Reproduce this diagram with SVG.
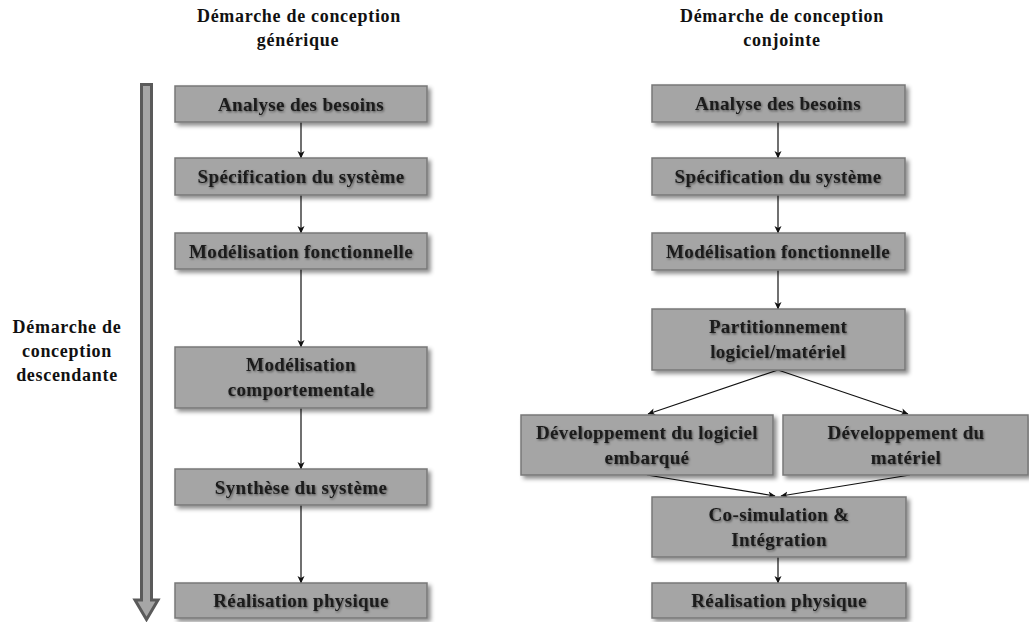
<svg xmlns="http://www.w3.org/2000/svg" width="1029" height="622" viewBox="0 0 1029 622">
<defs>
<filter id="bsh" x="-10%" y="-20%" width="125%" height="150%">
<feDropShadow dx="3" dy="3" stdDeviation="2" flood-color="#000" flood-opacity="0.45"/>
</filter>
<filter id="tsh" x="-10%" y="-30%" width="120%" height="160%">
<feDropShadow dx="1" dy="1.2" stdDeviation="0.9" flood-color="#000" flood-opacity="0.5"/>
</filter>
<marker id="ah" markerWidth="8" markerHeight="8" refX="7" refY="4" orient="auto" markerUnits="userSpaceOnUse">
<path d="M0,0.5 L7.5,4 L0,7.5 L2,4 Z" fill="#111"/>
</marker>
</defs>
<style>
.box{fill:#a5a5a5;stroke:#787878;stroke-width:1.5;filter:url(#bsh)}
.t{font-family:"Liberation Serif","Times New Roman",serif;font-weight:bold;font-size:19px;letter-spacing:0.35px;fill:#1a1a1a;text-anchor:middle;filter:url(#tsh)}
.h{font-family:"Liberation Serif","Times New Roman",serif;font-weight:bold;font-size:18px;letter-spacing:0.7px;fill:#111;text-anchor:middle}
.c{stroke:#111;stroke-width:1.2;fill:none;marker-end:url(#ah)}
</style>
<rect width="1029" height="622" fill="#fff"/>

<g id="titles">
<text class="h" x="299" y="22">Démarche de conception</text>
<text class="h" x="298" y="46">générique</text>
<text class="h" x="782" y="22">Démarche de conception</text>
<text class="h" x="782" y="46">conjointe</text>
</g>

<g id="side">
<polygon points="141.5,84.5 151.5,84.5 151.5,600 158,600 146.5,619.5 135,600 141.5,600" fill="#a6a6a6" stroke="#5a5a5a" stroke-width="3" stroke-linejoin="miter"/>
<text class="h" x="67" y="333">Démarche de</text>
<text class="h" x="67" y="357">conception</text>
<text class="h" x="67" y="381">descendante</text>
</g>

<g id="connectors">
<line class="c" x1="301" y1="122" x2="301" y2="158"/>
<line class="c" x1="301" y1="195" x2="301" y2="233"/>
<line class="c" x1="301" y1="269" x2="301" y2="347"/>
<line class="c" x1="301" y1="408" x2="301" y2="469"/>
<line class="c" x1="301" y1="505" x2="301" y2="583"/>
<line class="c" x1="778" y1="122" x2="778" y2="158"/>
<line class="c" x1="778" y1="195" x2="778" y2="233"/>
<line class="c" x1="778" y1="270" x2="778" y2="309"/>
<line class="c" x1="778" y1="370" x2="648" y2="414"/>
<line class="c" x1="778" y1="370" x2="908" y2="414"/>
<line class="c" x1="647" y1="475" x2="775" y2="496"/>
<line class="c" x1="910" y1="475" x2="781" y2="496"/>
<line class="c" x1="778" y1="557" x2="778" y2="583"/>
</g>

<g id="l-analyse"><rect class="box" x="175" y="86" width="252" height="36"/><text class="t" x="301" y="110.5">Analyse des besoins</text></g>
<g id="l-spec"><rect class="box" x="175" y="158" width="252" height="37"/><text class="t" x="301" y="183">Spécification du système</text></g>
<g id="l-modfonc"><rect class="box" x="175" y="233" width="252" height="36"/><text class="t" x="301" y="257.5">Modélisation fonctionnelle</text></g>
<g id="l-modcomp"><rect class="box" x="175" y="347" width="252" height="61"/><text class="t" x="301" y="371">Modélisation</text><text class="t" x="301" y="396">comportementale</text></g>
<g id="l-synth"><rect class="box" x="175" y="469" width="252" height="36"/><text class="t" x="301" y="493.5">Synthèse du système</text></g>
<g id="l-real"><rect class="box" x="175" y="583" width="252" height="35"/><text class="t" x="301" y="607">Réalisation physique</text></g>

<g id="r-analyse"><rect class="box" x="652" y="85" width="253" height="37"/><text class="t" x="778" y="110">Analyse des besoins</text></g>
<g id="r-spec"><rect class="box" x="652" y="158" width="253" height="37"/><text class="t" x="778" y="183">Spécification du système</text></g>
<g id="r-modfonc"><rect class="box" x="652" y="233" width="253" height="37"/><text class="t" x="778" y="258">Modélisation fonctionnelle</text></g>
<g id="r-part"><rect class="box" x="652" y="309" width="253" height="61"/><text class="t" x="778" y="333">Partitionnement</text><text class="t" x="778" y="358">logiciel/matériel</text></g>
<g id="r-devlog"><rect class="box" x="521" y="415" width="252" height="60"/><text class="t" x="647" y="439">Développement du logiciel</text><text class="t" x="647" y="464">embarqué</text></g>
<g id="r-devmat"><rect class="box" x="783" y="415" width="245" height="60"/><text class="t" x="906" y="439">Développement du</text><text class="t" x="906" y="464">matériel</text></g>
<g id="r-cosim"><rect class="box" x="652" y="497" width="254" height="60"/><text class="t" x="779" y="521">Co-simulation &amp;</text><text class="t" x="779" y="546">Intégration</text></g>
<g id="r-real"><rect class="box" x="652" y="583" width="254" height="35"/><text class="t" x="779" y="607">Réalisation physique</text></g>
</svg>
